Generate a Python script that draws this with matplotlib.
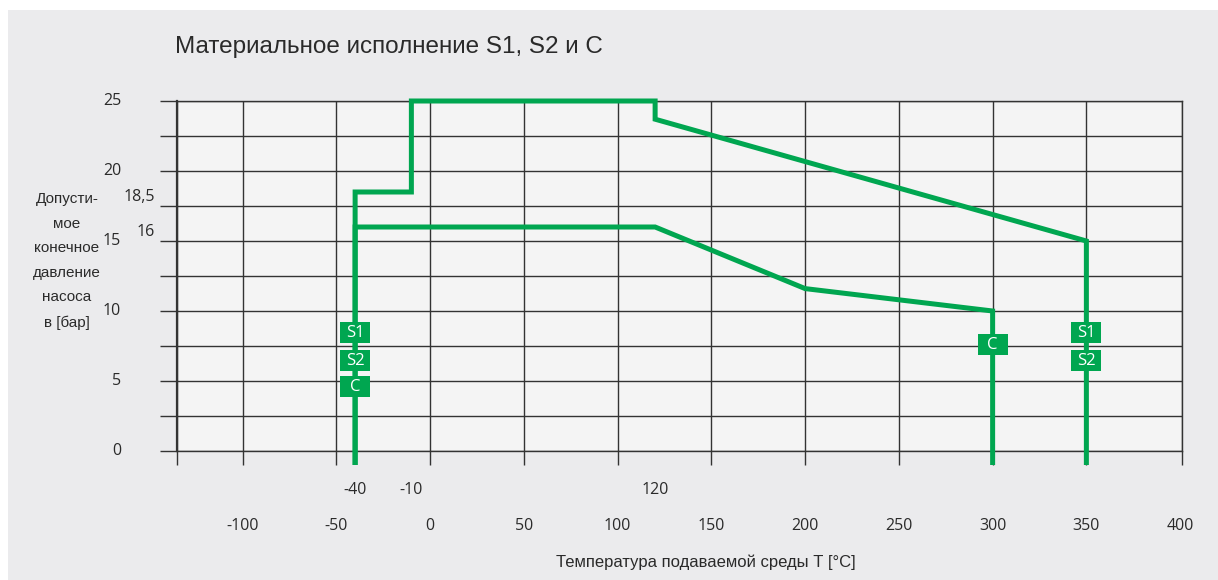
import matplotlib.pyplot as plt
from matplotlib.patches import Rectangle
from matplotlib.transforms import blended_transform_factory, offset_copy

# curve for S1 / S2 (temperature in degC, pressure in bar)
temp_s = [-40, -40, -10, -10, 120, 120, 350, 350]
press_s = [18.5, 18.5, 18.5, 25, 25, 23.7, 15, 15]
# curve for C
temp_c = [-40, -40, 120, 200, 300, 300]
press_c = [16, 16, 16, 11.6, 10, 10]

x_ticks = [-100, -50, 0, 50, 100, 150, 200, 250, 300, 350, 400]
y_ticks = [0, 5, 10, 15, 20, 25]
y_minor = [2.5, 7.5, 12.5, 17.5, 22.5]
extra_x = [-40, -10, 120]
extra_y = [18.5, 16]
extra_y_labels = ["18,5", "16"]

tag_labels = ["S1", "S2", "C", "C", "S1", "S2"]
tag_x = [-40, -40, -40, 300, 350, 350]
tag_y = [8.5, 6.45, 4.6, 7.6, 8.5, 6.45]

green = "#00a650"
grid_col = "#333333"
txt_col = "#2a2a2a"
floor = -1.0
num_font = "Open Sans"
txt_font = "Liberation Sans"

fig = plt.figure(figsize=(12.18, 5.8), dpi=100, facecolor="white")
fig.add_artist(Rectangle((8 / 1218, 0), 1, 1 - 10 / 580, transform=fig.transFigure,
                         facecolor="#ebebed", edgecolor="none", zorder=0))

ax = fig.add_axes([177 / 1218, 1 - 451 / 580, 1005 / 1218, 350 / 580])
ax.set_facecolor("#f4f4f4")
ax.set_xlim(-135, 401)
ax.set_ylim(0, 25)

ax.set_xticks([-135] + x_ticks[:-1] + [401])
ax.set_xticklabels([])
ax.set_yticks(y_ticks)
ax.set_yticks(y_minor, minor=True)
ax.set_yticklabels([])
ax.tick_params(axis="x", direction="out", length=10, width=1, color=grid_col)
ax.tick_params(axis="y", which="both", direction="out", length=12, width=1, color=grid_col)
ax.grid(True, which="major", axis="x", color=grid_col, lw=1)
ax.grid(True, which="both", axis="y", color=grid_col, lw=1)
for sp in ax.spines.values():
    sp.set_color(grid_col)
    sp.set_linewidth(1)
ax.spines["left"].set_linewidth(1.6)
ax.set_axisbelow(True)

# curves, extended below the axis down to the tick ends
xs = [temp_s[0]] + temp_s + [temp_s[-1]]
ys = [floor] + press_s + [floor]
ax.plot(xs, ys, color=green, lw=3.6, solid_joinstyle="miter", solid_capstyle="butt",
        clip_on=False, zorder=3)
xc = [temp_c[0]] + temp_c + [temp_c[-1]]
yc = [floor] + press_c + [floor]
ax.plot(xc, yc, color=green, lw=3.6, solid_joinstyle="miter", solid_capstyle="butt",
        clip_on=False, zorder=3)

# tags
for lab, tx, ty in zip(tag_labels, tag_x, tag_y):
    ax.add_patch(Rectangle((tx - 8, ty - 0.75), 16, 1.5, facecolor=green,
                           edgecolor="none", zorder=4))
    ax.text(tx, ty - 0.05, lab, color="white", ha="center", va="center", fontsize=12,
            family=num_font, zorder=5)

# y labels
ty_tr = blended_transform_factory(fig.transFigure, ax.transData)
for v in y_ticks:
    ax.text(121 / 1218, v, str(v), transform=ty_tr, ha="right", va="center",
            fontsize=11.5, family=num_font, color=txt_col)
for v, lab in zip(extra_y, extra_y_labels):
    ax.text(155 / 1218, v, lab, transform=offset_copy(ty_tr, fig=fig, y=-5, units="dots"),
            ha="right", va="center", fontsize=11.5, family=num_font, color=txt_col)

# x labels
tx_tr = blended_transform_factory(ax.transData, fig.transFigure)
for v in x_ticks:
    ax.text(v, 1 - 526 / 580, str(v), transform=tx_tr, ha="center", va="center",
            fontsize=11.5, family=num_font, color=txt_col)
for v in extra_x:
    ax.text(v, 1 - 490 / 580, str(v), transform=tx_tr, ha="center", va="center",
            fontsize=11.5, family=num_font, color=txt_col)

fig.text(175 / 1218, 1 - 47 / 580, "Материальное исполнение S1, S2 и C", ha="left",
         va="center", fontsize=17.5, family=txt_font, color=txt_col)
fig.text(706 / 1218, 1 - 562 / 580, "Температура подаваемой среды Т [°C]", ha="center",
         va="center", fontsize=12, family=txt_font, color=txt_col)
fig.text(67 / 1218, 1 - 261 / 580, "Допусти-\nмое\nконечное\nдавление\nнасоса\nв [бар]",
         ha="center", va="center", fontsize=11, family=txt_font, color=txt_col,
         linespacing=1.95)

fig.savefig("out.png", dpi=100, facecolor=fig.get_facecolor())
